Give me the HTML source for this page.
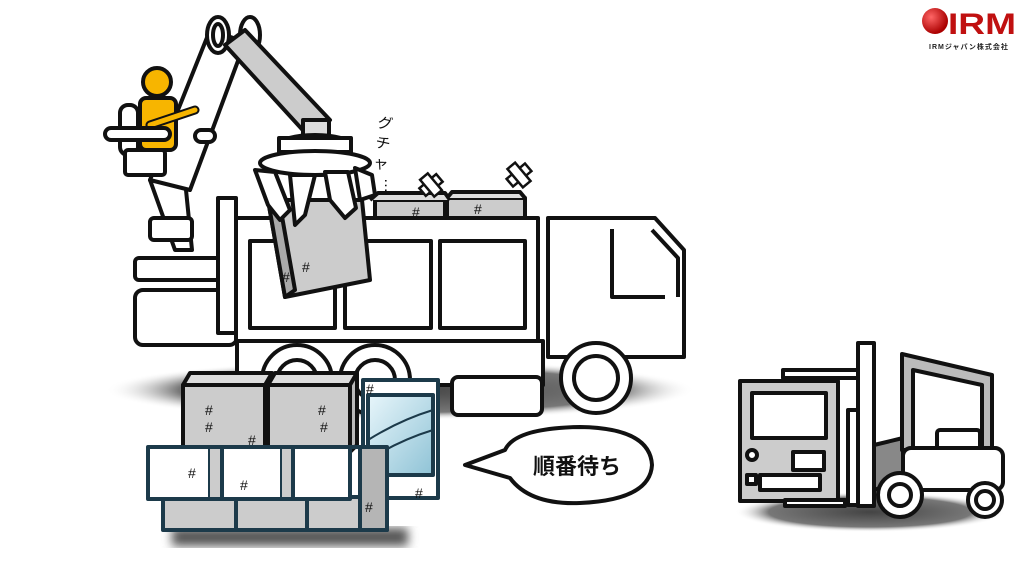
<!DOCTYPE html>
<html><head><meta charset="utf-8"><style>
html,body{margin:0;padding:0;background:#fff;width:1024px;height:576px;overflow:hidden}
svg{display:block}
text{font-family:"Liberation Sans","Noto Sans CJK JP",sans-serif}
</style></head><body>
<svg width="1024" height="576" viewBox="0 0 1024 576" xmlns="http://www.w3.org/2000/svg">
<defs>
<radialGradient id="sh" cx="50%" cy="50%" r="50%"><stop offset="0" stop-color="#444"/><stop offset="0.75" stop-color="#777"/><stop offset="1" stop-color="#fff" stop-opacity="0"/></radialGradient>
<filter id="bl"><feGaussianBlur stdDeviation="5"/></filter>
<radialGradient id="red" cx="35%" cy="35%" r="65%"><stop offset="0" stop-color="#f66"/><stop offset="1" stop-color="#a00"/></radialGradient>
<linearGradient id="gl" x1="0" y1="0" x2="1" y2="1"><stop offset="0" stop-color="#e8f6fb"/><stop offset="1" stop-color="#8fc3d6"/></linearGradient>
</defs>
<g stroke="#111" stroke-width="4" stroke-linejoin="round" fill="#fff">
<!-- shadows -->
<ellipse cx="400" cy="390" rx="295" ry="30" fill="url(#sh)" stroke="none"/>
<ellipse cx="870" cy="512" rx="135" ry="20" fill="url(#sh)" stroke="none"/>
<rect x="172" y="528" width="236" height="18" fill="#555" stroke="none" filter="url(#bl)"/>
<!-- crane base -->
<rect x="135" y="290" width="102" height="55" rx="8"/>
<rect x="135" y="258" width="85" height="22" rx="4"/>
<rect x="218" y="198" width="18" height="135"/>
<!-- truck cargo -->
<rect x="236" y="218" width="302" height="123"/>
<rect x="250" y="241" width="85" height="87"/>
<rect x="345" y="241" width="86" height="87"/>
<rect x="440" y="241" width="85" height="87"/>
<path d="M237 341 H543 V385 H237 Z"/>
<!-- rear wheels -->
<circle cx="297" cy="380" r="35"/><circle cx="297" cy="380" r="20"/>
<circle cx="375" cy="380" r="35"/><circle cx="375" cy="380" r="20"/>
<!-- cab -->
<path d="M548 218 H655 L684 250 V357 H548 Z"/>
<path d="M612 229 V297 H665" fill="none"/>
<path d="M652 230 L678 258 V297" fill="none"/>
<rect x="452" y="377" width="90" height="38" rx="6"/>
<circle cx="596" cy="378" r="35"/><circle cx="596" cy="378" r="22"/>
<!-- boxes on truck -->
<rect x="375" y="200" width="70" height="18" fill="#ccc"/>
<rect x="447" y="198" width="78" height="20" fill="#ccc"/>
<path d="M370 200 L378 193 H445 L450 200" fill="#ddd"/>
<path d="M447 198 L452 192 H520 L525 198" fill="#ddd"/>
<!-- crane arm -->
<path d="M150 180 L175 250 L192 250 L185 180 Z" fill="#fff"/>
<rect x="150" y="218" width="42" height="22" rx="4"/>
<path d="M150 180 L210 30 L245 42 L190 190 Z"/>
<ellipse cx="218" cy="35" rx="11" ry="18"/><ellipse cx="218" cy="35" rx="5" ry="11"/>
<ellipse cx="250" cy="35" rx="10" ry="18"/>
<path d="M225 45 L245 30 L330 120 L310 138 Z" fill="#ccc"/>
<rect x="303" y="120" width="26" height="20" fill="#ddd"/>
<ellipse cx="315" cy="145" rx="36" ry="10"/>
<rect x="279" y="138" width="72" height="14"/>
<ellipse cx="315" cy="163" rx="55" ry="12"/>
<!-- gripped box -->
<path d="M268 200 L285 297 L370 280 L362 200 Z" fill="#ccc"/>
<path d="M268 200 L285 297 L295 290 L280 205 Z" fill="#aaa"/>
<path d="M255 170 L275 172 L290 210 L280 220 L268 205 Z"/>
<path d="M290 175 L315 175 L305 215 L295 225 Z"/>
<path d="M325 172 L348 172 L356 208 L345 218 L330 200 Z"/>
<path d="M355 168 L372 175 L375 195 L360 200 Z"/>
<!-- worker -->
<rect x="120" y="105" width="18" height="50" rx="8"/>
<rect x="125" y="150" width="40" height="25" rx="3"/>
<rect x="140" y="98" width="36" height="52" rx="6" fill="#f7b500"/>
<path d="M150 125 L195 110" stroke="#111" stroke-width="9" stroke-linecap="round"/>
<path d="M150 125 L195 110" stroke="#f7b500" stroke-width="5" stroke-linecap="round"/>
<circle cx="157" cy="82" r="14" fill="#f7b500"/>
<rect x="105" y="128" width="65" height="12" rx="6"/>
<rect x="195" y="130" width="20" height="12" rx="6"/>
<!-- front boxes -->
<path d="M183 385 L190 373 H272 L265 385 Z" fill="#ddd"/>
<rect x="183" y="385" width="82" height="65" fill="#ccc"/>
<path d="M268 385 L275 373 H357 L350 385 Z" fill="#ddd"/>
<rect x="268" y="385" width="82" height="65" fill="#ccc"/>
<path d="M350 385 L357 373 V445 L350 452 Z" fill="#bbb"/>
<g stroke="#1c3a4a">
<rect x="363" y="380" width="75" height="118" fill="#fff"/>
<rect x="368" y="395" width="65" height="80" fill="url(#gl)"/>
<path d="M368 440 Q400 420 433 410 M368 460 Q400 440 433 430" fill="none" stroke-width="2"/>
<rect x="163" y="497" width="224" height="33" fill="#ccc"/>
<path d="M236 497 V530 M307 497 V530" fill="none"/>
<rect x="360" y="447" width="27" height="83" fill="#b5b5b5"/>
<rect x="148" y="447" width="62" height="52" fill="#fff"/>
<rect x="222" y="447" width="60" height="52" fill="#fff"/>
<rect x="293" y="447" width="57" height="52" fill="#fff"/>
<path d="M210 447 H222 V499 H210 M282 447 H293 V499 H282 M350 447 H360" fill="#ccc"/>
</g>
<!-- speech bubble -->
<path d="M505 450 L465 465 L510 478 Q530 505 580 503 Q650 500 652 465 Q650 428 580 427 Q515 428 505 450 Z"/>
<!-- forklift -->
<rect x="783" y="370" width="80" height="8"/>
<rect x="858" y="343" width="16" height="163"/>
<rect x="848" y="410" width="10" height="95"/>
<path d="M874 445 L903 438 V480 L874 490 Z" fill="#888"/>
<path d="M902 354 L992 375 V450 H902 Z" fill="#bbb"/>
<path d="M913 370 L982 385 V450 H913 Z" fill="#fff"/>
<rect x="937" y="430" width="43" height="20" rx="3"/>
<rect x="903" y="448" width="100" height="42" rx="8"/>
<circle cx="900" cy="495" r="22"/><circle cx="900" cy="495" r="11"/>
<circle cx="985" cy="500" r="17"/><circle cx="985" cy="500" r="9"/>
<rect x="740" y="381" width="98" height="120" fill="#ccc"/>
<rect x="752" y="393" width="74" height="45"/>
<circle cx="752" cy="455" r="5"/>
<rect x="793" y="452" width="31" height="18"/>
<rect x="747" y="475" width="9" height="9"/>
<rect x="760" y="475" width="60" height="15"/>
<rect x="785" y="500" width="60" height="6"/>
</g>
<!-- crash marks -->
<g stroke="#111" stroke-width="2.5" fill="#fff">
<rect x="420" y="180" width="22" height="10" transform="rotate(-40 431 185)"/>
<rect x="426" y="174" width="10" height="22" transform="rotate(-40 431 185)"/>
<rect x="507" y="170" width="24" height="10" transform="rotate(-40 519 175)"/>
<rect x="514" y="163" width="10" height="24" transform="rotate(-40 519 175)"/>
</g>
<g font-size="14" fill="#111">
<text x="412" y="217">#</text><text x="474" y="214">#</text>
<text x="302" y="272">#</text><text x="282" y="282">#</text>
<text x="205" y="415">#</text><text x="205" y="432">#</text>
<text x="318" y="415">#</text><text x="320" y="432">#</text>
<text x="248" y="445">#</text><text x="188" y="478">#</text>
<text x="240" y="490">#</text><text x="365" y="512">#</text>
<text x="415" y="498">#</text><text x="366" y="394">#</text>
</g>
<text x="372" y="128" font-size="15" fill="#111" transform="rotate(12 380 150)">グ</text>
<text x="374" y="148" font-size="15" fill="#111" transform="rotate(12 380 150)">チ</text>
<text x="376" y="168" font-size="15" fill="#111" transform="rotate(12 380 150)">ャ</text>
<text x="384" y="185" font-size="15" fill="#111" transform="rotate(90 388 182)">…</text>
<text x="577" y="474" font-size="22" font-weight="bold" text-anchor="middle" fill="#111">順番待ち</text>
<circle cx="935" cy="21" r="13" fill="url(#red)"/>
<text x="948" y="34" font-size="30" font-weight="bold" fill="#c01010" textLength="68" lengthAdjust="spacingAndGlyphs">IRM</text>
<text x="929" y="49" font-size="7" font-weight="bold" fill="#222" letter-spacing="1">IRMジャパン株式会社</text>
</svg>
</body></html>
